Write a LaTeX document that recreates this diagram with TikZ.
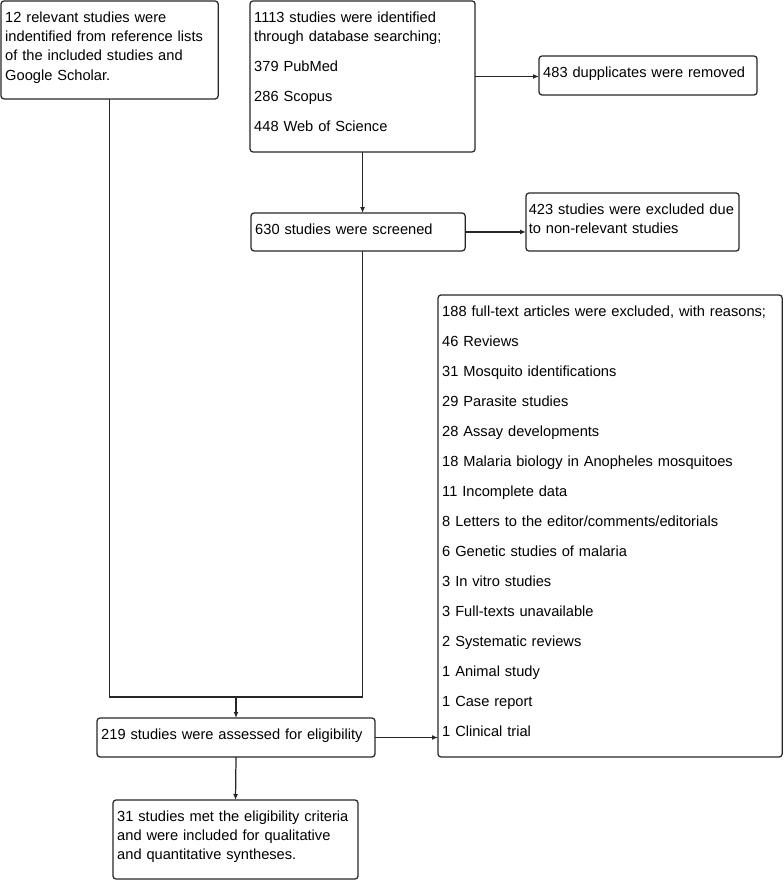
\documentclass[tikz,border=0pt]{standalone}
\usepackage{fontspec}
\setmainfont{Liberation Sans}
\usepackage{tikz}
\usetikzlibrary{arrows.meta,calc}

\begin{document}
\begin{tikzpicture}[
  x=0.5669pt, y=-0.5669pt,
  box/.style={draw=black!85,line width=0.7pt,rounded corners=1.7pt,anchor=north west,
              align=left,inner xsep=2.4pt,inner ysep=6pt,outer sep=0pt,
              text height=6pt,font=\fontsize{8.3}{11}\selectfont},
  link/.style={draw=black!85,line width=0.7pt},
  arr/.style={link,-{Latex[length=3.4pt,width=2.8pt]}}
]
\useasboundingbox (0,0) rectangle (784,880);
\node[box,text width=118.3pt,text depth=37.5pt] (refs) at (1,1)
  {12 relevant studies were\\ indentified from reference lists\\ of the included studies and\\ Google Scholar.};
\node[box,text width=122.8pt,text depth=67.6pt] (db) at (250,1)
  {1113 studies were identified\\ through database searching;\\[6pt] 379 PubMed\\[6pt] 286 Scopus\\[6pt] 448 Web of Science};
\node[box,text width=118.8pt,text depth=4.1pt] (dup) at (539,56) {483 dupplicates were removed};
\node[box,text width=116.6pt,text depth=3.5pt] (screen) at (251,213) {630 studies were screened};
\node[box,inner xsep=1.6pt,text width=117.6pt,text depth=14.9pt] (nonrel) at (526,193)
  {423 studies were excluded due\\ to non-relevant studies};
\node[box,text width=190.3pt,text depth=243.9pt] (reasons) at (438,295)
  {188 full-text articles were excluded, with reasons;\\[6pt]
   46 Reviews\\[6pt]
   31 Mosquito identifications\\[6pt]
   29 Parasite studies\\[6pt]
   28 Assay developments\\[6pt]
   18 Malaria biology in Anopheles mosquitoes\\[6pt]
   11 Incomplete data\\[6pt]
   8 Letters to the editor/comments/editorials\\[6pt]
   6 Genetic studies of malaria\\[6pt]
   3 In vitro studies\\[6pt]
   3 Full-texts unavailable\\[6pt]
   2 Systematic reviews\\[6pt]
   1 Animal study\\[6pt]
   1 Case report\\[6pt]
   1 Clinical trial};
\node[box,text width=152.8pt,text depth=4.1pt] (assess) at (97,718) {219 studies were assessed for eligibility};
\node[box,text width=134.1pt,text depth=26.8pt] (incl) at (113,800)
  {31 studies met the eligibility criteria\\ and were included for qualitative\\ and quantitative syntheses.};
\path (assess.north) ++(0,-21) coordinate (join);
\draw[arr] (db.east) -- (db.east -| dup.west);
\draw[arr] (db.south) -- (db.south |- screen.north);
\draw[arr] (screen.east) -- (screen.east -| nonrel.west);
\draw[link] (refs.south) |- (db.south |- join) -- (db.south |- screen.south);
\draw[arr] (join) -- (assess.north);
\draw[arr] (assess.east) -- (assess.east -| reasons.west);
\draw[arr] (assess.south) -- (incl.north);
\end{tikzpicture}
\end{document}
